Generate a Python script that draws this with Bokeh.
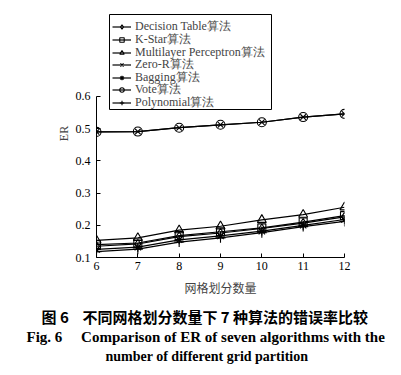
from bokeh.plotting import figure
from bokeh.models import Legend, LegendItem, Title, FixedTicker, BoxAnnotation
from bokeh.embed import file_html
from bokeh.resources import INLINE

grid_counts = [6, 7, 8, 9, 10, 11, 12]
names = ["Decision Table算法", "K-Star算法", "Multilayer Perceptron算法", "Zero-R算法",
         "Bagging算法", "Vote算法", "Polynomial算法"]
decision_table = [0.135, 0.142, 0.165, 0.176, 0.190, 0.207, 0.226]
k_star = [0.140, 0.145, 0.168, 0.180, 0.192, 0.210, 0.230]
multilayer = [0.153, 0.161, 0.185, 0.197, 0.217, 0.233, 0.256]
zero_r = [0.490, 0.491, 0.503, 0.512, 0.520, 0.536, 0.546]
bagging = [0.125, 0.132, 0.155, 0.167, 0.182, 0.200, 0.218]
vote = [0.490, 0.491, 0.503, 0.512, 0.520, 0.536, 0.546]
polynomial = [0.118, 0.126, 0.148, 0.161, 0.177, 0.196, 0.212]
y_ticks = [0.1, 0.2, 0.3, 0.4, 0.5, 0.6]

series = [decision_table, k_star, multilayer, zero_r, bagging, vote, polynomial]
markers = ["diamond", "square", "triangle", "x", "asterisk", "circle", "cross"]
sizes = [9, 8, 9, 8, 9, 9, 10]

SERIF = "Liberation Serif"
CJK = "Noto Sans CJK SC"

# frame extends above 0.6 so the legend sits inside it; the y axis line is bounded
p = figure(width=400, height=374, output_backend="svg", toolbar_location=None,
           x_range=(6, 12), y_range=(0.1, 0.87),
           min_border_left=96, min_border_right=56, min_border_top=9, min_border_bottom=117)
p.outline_line_color = None
p.grid.visible = False
p.background_fill_color = "white"

# legend frame (screen units, relative to the plot frame)
p.add_layout(BoxAnnotation(left=13, right=175, bottom=148, top=243,
                           left_units="screen", right_units="screen",
                           bottom_units="screen", top_units="screen",
                           fill_alpha=0, line_color="black", line_width=1,
                           line_alpha=1))

n = len(names)
for i, (name, ys, m, s) in enumerate(zip(names, series, markers, sizes)):
    r1 = p.line(grid_counts, ys, line_color="black", line_width=1.2)
    r2 = p.scatter(grid_counts, ys, marker=m, size=s, line_color="black",
                   fill_alpha=0, line_width=1.1)
    lg = Legend(items=[LegendItem(label=name, renderers=[r1, r2])],
                location=(16, 146 + (n - 1 - i) * 12.6), orientation="vertical",
                label_text_font=SERIF, label_text_font_size="12px",
                glyph_width=19, glyph_height=11, label_standoff=4,
                label_height=11, spacing=0, padding=0, margin=0,
                border_line_color=None, background_fill_alpha=0)
    p.add_layout(lg, "center")

for ax in (p.xaxis[0], p.yaxis[0]):
    ax.major_tick_in = 4
    ax.major_tick_out = 0
    ax.minor_tick_line_color = None
    ax.axis_line_color = "black"
    ax.major_tick_line_color = "black"
    ax.major_label_text_font = SERIF
    ax.major_label_text_font_size = "12px"
    ax.major_label_text_color = "black"

p.yaxis[0].bounds = (0.1, 0.6)
p.xaxis[0].ticker = FixedTicker(ticks=grid_counts)
p.yaxis[0].ticker = FixedTicker(ticks=y_ticks)
p.xaxis[0].major_label_standoff = 4
p.yaxis[0].major_label_standoff = 6
p.xaxis[0].axis_label = "网格划分数量"
p.xaxis[0].axis_label_text_font = CJK
p.xaxis[0].axis_label_text_font_size = "12px"
p.xaxis[0].axis_label_text_font_style = "normal"
p.xaxis[0].axis_label_standoff = 6
p.yaxis[0].axis_label = "ER"
p.yaxis[0].axis_label_text_font = SERIF
p.yaxis[0].axis_label_text_font_size = "12px"
p.yaxis[0].axis_label_text_font_style = "normal"
p.yaxis[0].axis_label_standoff = 2

NB = "\u00a0"
captions = [
    ("图 6" + NB * 4 + "不同网格划分数量下 7 种算法的错误率比较", CJK, "15px", 10, -55),
    ("Fig. 6" + NB * 5 + "Comparison of ER of seven algorithms with the", SERIF, "15px", -10, -70),
    ("number of different grid partition", SERIF, "14px", 14, 9),
]
for text, font, fs, so, off in captions:
    p.add_layout(Title(text=text, text_font=font, text_font_size=fs,
                       text_font_style="bold", align="left", text_color="black",
                       standoff=so, offset=off), "below")

open("out.html", "w").write(file_html(p, INLINE))
